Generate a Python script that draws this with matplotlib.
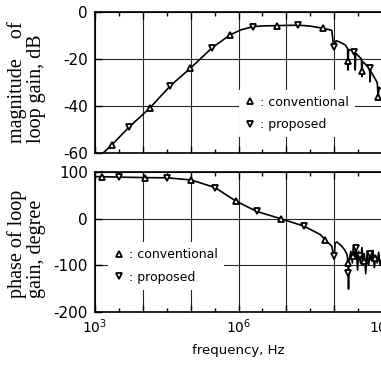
import numpy as np
import matplotlib.pyplot as plt
from matplotlib.lines import Line2D
from matplotlib.ticker import FixedLocator, FixedFormatter

plt.rcParams['font.family'] = 'DejaVu Sans'
plt.rcParams['axes.unicode_minus'] = False

# data (frequency given as log10 of Hz) ######################################
mag_line_logf = [3.17, 3.35, 3.72, 4.14, 4.57, 4.99, 5.45, 5.82, 6.05, 6.31,
                 6.55, 6.80, 7.25, 7.50, 7.76, 7.95, 7.99, 8.00, 8.04, 8.12,
                 8.23, 8.28, 8.29, 8.30, 8.43, 8.44, 8.45, 8.57, 8.58, 8.59,
                 8.74, 8.75, 8.76, 8.90, 8.92, 8.94, 9.00]
mag_line_db = [-60, -56.6, -48.8, -41, -31.5, -24, -15.2, -9.8, -7.6, -6.2,
               -5.9, -5.8, -5.6, -6.0, -6.9, -7.8, -14.8, -15.2, -12.2, -12.8,
               -14.0, -15.5, -24.7, -16.0, -16.8, -24.7, -17.5, -20.0, -27.5, -21.0,
               -24.0, -29.7, -25.0, -30.0, -36.0, -32.0, -33.0]

mag_conv_logf = [3.35, 4.14, 4.99, 5.82, 6.80, 7.76, 8.29, 8.58, 8.92]
mag_conv_db = [-56.6, -41, -24, -9.8, -5.8, -6.9, -21, -25, -36]
mag_prop_logf = [3.72, 4.57, 5.45, 6.31, 7.25, 7.99, 8.41, 8.75]
mag_prop_db = [-48.8, -31.5, -15.2, -6.2, -5.5, -14.8, -16.9, -24]

ph_line_logf = [3.03, 3.14, 3.51, 4.05, 4.51, 5.01, 5.51, 5.94, 6.38, 6.88,
                7.37, 7.71, 7.81, 7.95, 7.99, 8.00, 8.02, 8.06, 8.15, 8.22,
                8.27, 8.29, 8.30, 8.31, 8.35, 8.38, 8.40, 8.43, 8.46, 8.49,
                8.51, 8.55, 8.58, 8.61, 8.63, 8.66, 8.69, 8.72, 8.75, 8.78,
                8.81, 8.84, 8.87, 8.90, 8.93, 8.96, 9.00]
ph_line_deg = [90, 90, 89, 88, 87.5, 83, 66.6, 38, 15.5, 0,
               -16, -34, -45, -59, -80, -87, -52, -50, -58, -67,
               -77, -94, -151, -90, -70, -95, -60, -85, -65, -110,
               -70, -95, -62, -100, -75, -118, -70, -100, -78, -90,
               -68, -105, -80, -95, -72, -100, -85]

ph_conv_logf = [3.14, 4.05, 5.01, 5.94, 6.88, 7.81, 8.29, 8.40, 8.62, 8.85]
ph_conv_deg = [90, 88, 83, 38, 0, -45, -94, -80, -90, -85]
ph_prop_logf = [3.51, 4.51, 5.51, 6.38, 7.37, 7.99, 8.29, 8.45, 8.55, 8.75]
ph_prop_deg = [89, 88, 66.6, 15.5, -16, -80, -116, -62, -80, -75]

decades = [3, 4, 5, 6, 7, 8, 9]
half_decades = [3.5, 4.5, 5.5, 6.5, 7.5, 8.5]
xlabels = ['$10^3$', '', '', '$10^6$', '', '', '$10^9$']
###############################################################################

def hz(logf):
    return 10 ** np.array(logf)

mk = dict(ls='none', mfc='white', mec='black', mew=1.3, ms=5)

fig = plt.figure(figsize=(3.81, 3.66), dpi=100)
ax1 = fig.add_axes([95/381, (366-153)/366, 287/381, 141/366])
ax2 = fig.add_axes([95/381, (366-312)/366, 287/381, 140/366])

for ax in (ax1, ax2):
    ax.set_xscale('log')
    ax.set_xlim(1e3, 1e9)
    ax.xaxis.set_major_locator(FixedLocator(hz(decades)))
    ax.xaxis.set_minor_locator(FixedLocator(hz(half_decades)))
    ax.grid(True, which='major', color='0.15', lw=0.8)
    ax.tick_params(which='both', direction='in', top=True, right=False,
                   width=1, labelsize=11, pad=5)
    ax.tick_params(which='major', length=5)
    ax.tick_params(which='minor', length=3)
    for s in ax.spines.values():
        s.set_linewidth(1.2)

# magnitude
ax1.plot(hz(mag_line_logf), mag_line_db, color='black', lw=1.2)
ax1.plot(hz(mag_conv_logf), mag_conv_db, marker='^', **mk)
ax1.plot(hz(mag_prop_logf), mag_prop_db, marker='v', **mk)
ax1.set_ylim(-60, 0)
ax1.set_yticks([0, -20, -40, -60])
ax1.set_xticklabels([])

# phase
ax2.plot(hz(ph_line_logf), ph_line_deg, color='black', lw=1.2)
ax2.plot(hz(ph_conv_logf), ph_conv_deg, marker='^', **mk)
ax2.plot(hz(ph_prop_logf), ph_prop_deg, marker='v', **mk)
ax2.set_ylim(-200, 100)
ax2.set_yticks([100, 0, -100, -200])
ax2.xaxis.set_major_formatter(FixedFormatter(xlabels))
ax2.tick_params(axis='x', labelsize=10, pad=4)
ax2.set_xlabel('frequency, Hz', fontsize=9.5, labelpad=6)

handles = [Line2D([], [], marker='^', **mk), Line2D([], [], marker='v', **mk)]
labels = [': conventional', ': proposed']
leg_kw = dict(loc='upper left', borderaxespad=0, frameon=True, fancybox=False,
              edgecolor='none', framealpha=1, fontsize=9, handlelength=0.8,
              handletextpad=0.4, labelspacing=0.75, borderpad=0.5)
ax1.legend(handles, labels, bbox_to_anchor=(0.50, 0.45), **leg_kw)
ax2.legend(handles, labels, bbox_to_anchor=(0.045, 0.50), **leg_kw)

serif = dict(family='Liberation Serif', fontsize=14.5, rotation=90,
             ha='center', va='bottom')
fig.text(17/381, 1 - 143/366, 'magnitude    of', **serif)
fig.text(37/381, 1 - 143/366, 'loop gain, dB', **serif)
fig.text(17/381, 1 - 298/366, 'phase of loop', **serif)
fig.text(37/381, 1 - 298/366, 'gain, degree', **serif)

fig.savefig('out.png', dpi=100)
